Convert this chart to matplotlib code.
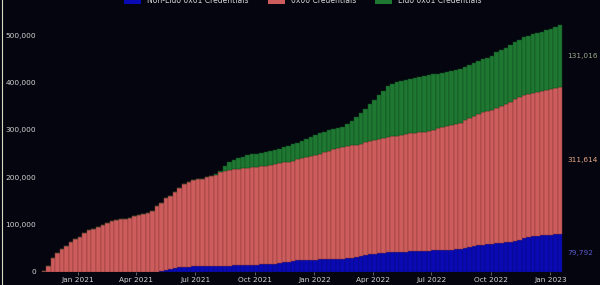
import numpy as np
import pandas as pd
import matplotlib
matplotlib.use("Agg")
import matplotlib.pyplot as plt
import matplotlib.dates as mdates
from matplotlib.ticker import FuncFormatter
from matplotlib.patches import Patch
from matplotlib.lines import Line2D

# weekly snapshots (thousands of validators)
weeks = pd.date_range("2020-11-09", periods=115, freq="7D")

non_lido_0x01 = [0] * 26 + [
    1, 3, 5, 7, 9, 10, 10.5, 11, 11.2, 11.5, 11.8, 12,
    12.2, 12.4, 12.7, 13, 13.2, 13.5, 13.8, 14, 14.5, 15, 15.5, 16,
    16.5, 17.2, 18, 19.5, 21, 22.5, 24, 24.5, 25, 25.2, 25.5, 25.8,
    26, 26.2, 26.4, 26.5, 27.2, 28, 29.5, 31, 33, 35, 36.5, 38,
    39, 40, 40.8, 41.5, 41.8, 42.2, 42.5, 42.9, 43.3, 43.7, 44.1, 44.5,
    44.9, 45.3, 45.7, 46.1, 46.5, 47.2, 48, 50, 52, 54, 56, 57.3,
    58.5, 59.3, 60, 61, 62, 63, 65.5, 68, 70.5, 73, 74.5, 76,
    76.8, 77.5, 78.2, 79, 79.792,
]

cred_0x00 = [
    2, 12, 30, 40, 47, 55, 63, 69, 74, 82, 88, 91,
    94, 99, 104, 107, 109, 111, 112, 114, 117, 120, 122, 125,
    128, 139, 145, 152, 156, 161, 169, 175, 178.5, 182, 184.8, 185.5,
    188.2, 191, 192.8, 197.6, 201.3, 203, 203.8, 204.5, 205.2, 206, 206.5, 207,
    207.5, 208, 208.5, 209.8, 211, 211.5, 212, 212.5, 214, 215.5, 217, 219.8,
    221.5, 224.2, 227, 229.8, 232.6, 235.5, 236.8, 238, 238.5, 238, 238, 239,
    240.5, 241, 242, 242, 243.2, 244.5, 246.2, 247.8, 248.5, 250.1, 250.7, 251.3,
    251.9, 253.5, 255.1, 257.7, 260.3, 261.9, 263.5, 264.8, 267, 270, 273, 275,
    278, 279.7, 281.5, 283.7, 287, 290, 293, 297, 299.5, 301, 302.5, 303,
    303.5, 304, 305.2, 306.5, 307.8, 310, 311.614,
]

lido_0x01 = [0] * 38 + [
    2, 2, 10, 16, 19, 22, 24, 26, 27, 28, 29, 30,
    31, 31, 31, 32, 33, 35, 35, 37, 39, 40, 42, 43,
    43, 43, 42, 41, 43, 46, 50, 58, 65, 71, 78, 85,
    92, 101, 108, 112, 113, 114, 115, 115, 116, 117, 118, 118,
    118, 116, 115, 115, 114, 114, 113, 113, 112, 112, 112, 113,
    113, 113, 117, 119, 119, 119, 120, 122, 123, 123, 125, 125,
    126, 127, 128, 129, 131.016,
]

labels = ["Non-Lido 0x01 Credentials", "0x00 Credentials", "Lido 0x01 Credentials"]
colors = ["#0a0ab4", "#cd5c5c", "#1e7832"]
edges = ["#06067a", "#8e3a3a", "#124d20"]
end_colors = ["#5a5ad0", "#e8a888", "#9aaa8a"]
bg = "#05050f"
txt = "#d4d4d4"

blue = np.array(non_lido_0x01)
red = np.array(cred_0x00)
green = np.array(lido_0x01)

fig = plt.figure(figsize=(6, 2.85), dpi=100, facecolor=bg)
ax = fig.add_axes([0.0667, 0.0467, 0.8733, 0.904], facecolor=bg)

w = 7.0
ax.bar(weeks, blue, width=w, color=colors[0], edgecolor=edges[0], linewidth=0.35)
ax.bar(weeks, red, width=w, bottom=blue, color=colors[1], edgecolor=edges[1], linewidth=0.35)
ax.bar(weeks, green, width=w, bottom=blue + red, color=colors[2], edgecolor=edges[2], linewidth=0.35)

ax.set_xlim(pd.Timestamp("2020-11-03"), pd.Timestamp("2023-01-22"))
ax.set_ylim(0, 545)
ax.set_yticks([0, 100, 200, 300, 400, 500])
ax.yaxis.set_major_formatter(FuncFormatter(lambda v, p: f"{v * 1000:,.0f}"))
ax.xaxis.set_major_locator(mdates.MonthLocator(bymonth=[1, 4, 7, 10]))
ax.xaxis.set_major_formatter(mdates.DateFormatter("%b %Y"))

ax.tick_params(axis="y", length=0, pad=3, labelsize=5.3, labelcolor=txt)
ax.tick_params(axis="x", length=2, width=0.6, color="#707070", pad=1.5,
               labelsize=5.3, labelcolor=txt)
for s in ax.spines.values():
    s.set_visible(False)

# latest values at the right of the last bar
last = [blue[-1], red[-1], green[-1]]
base = 0
trans = ax.get_yaxis_transform()
for val, c in zip(last, end_colors):
    ax.text(1.006, base + val / 2, f"{val * 1000:,.0f}", transform=trans,
            ha="left", va="center", fontsize=5.3, color=c)
    base += val

handles = [Patch(facecolor=c, edgecolor="none") for c in colors]
fig.legend(handles, labels, loc="center", bbox_to_anchor=(0.505, 0.997), ncol=3,
           frameon=False, fontsize=5.5, labelcolor=txt, handlelength=2.2,
           handleheight=1.0, columnspacing=2.5, handletextpad=0.8)

# thin light border on the left edge
fig.add_artist(Line2D([0.004, 0.004], [0, 1], transform=fig.transFigure,
                      color="#d8d8c0", lw=0.8))

fig.savefig("out.png", dpi=100, facecolor=bg)
